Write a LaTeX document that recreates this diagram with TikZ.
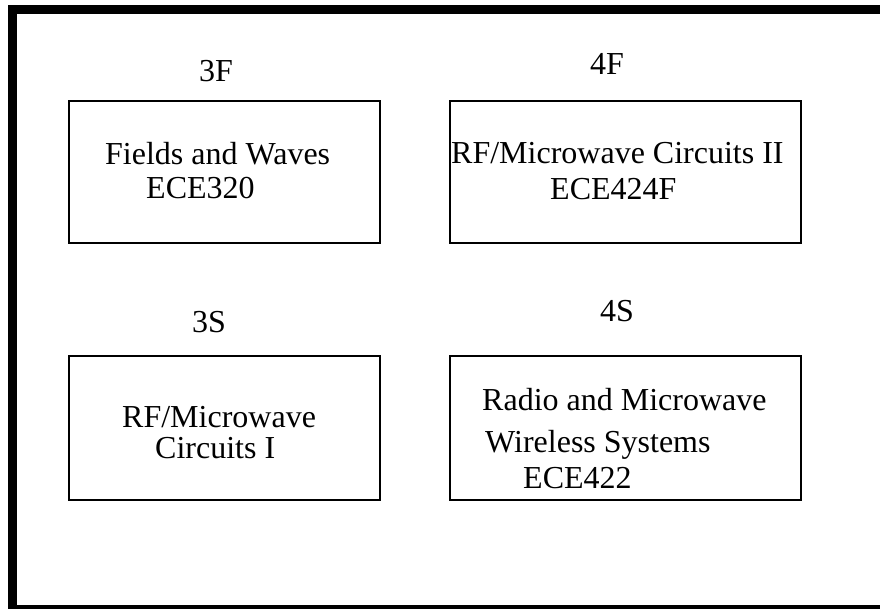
\documentclass[tikz,border=0pt]{standalone}
\usepackage{fontspec}
\setmainfont{Liberation Serif}
\begin{document}
\begin{tikzpicture}[x=1pt,y=-1pt,
  course/.style={draw=black,line width=2pt,rectangle,inner sep=0pt},
  txt/.style={anchor=base west,inner sep=0pt,font=\fontsize{32}{36}\selectfont},
  term/.style={anchor=base,inner sep=0pt,font=\fontsize{32}{36}\selectfont}]
  \useasboundingbox (0,0) rectangle (880,609);
  \clip (0,0) rectangle (880,609);
  % outer frame, partly running off the page
  \draw[line width=9pt] (12.5,9.5) rectangle (884.5,609.5);

  % course boxes
  \node[course,minimum width=310.5pt,minimum height=142pt] (f3) at (224.25,172) {};
  \node[course,minimum width=351pt,minimum height=142pt] (f4) at (625.5,172) {};
  \node[course,minimum width=310.5pt,minimum height=144pt] (s3) at (224.25,428) {};
  \node[course,minimum width=351pt,minimum height=144pt] (s4) at (625.5,428) {};

  % term labels
  \node[term] (l3f) at (216,82) {3F};
  \node[term] (l4f) at (607,75) {4F};
  \node[term] (l3s) at (209,333) {3S};
  \node[term] (l4s) at (617,322) {4S};

  % box texts
  \node[txt] (f3a) at (105,165) {Fields and Waves};
  \node[txt] (f3b) at (146,199) {ECE320};
  \node[txt] (f4a) at (451,164) {RF/Microwave Circuits II};
  \node[txt] (f4b) at (550,200) {ECE424F};
  \node[txt] (s3a) at (122,427) {RF/Microwave};
  \node[txt] (s3b) at (155,458) {Circuits I};
  \node[txt] (s4a) at (482,410) {Radio and Microwave};
  \node[txt] (s4b) at (485,452) {Wireless Systems};
  \node[txt] (s4c) at (523,488) {ECE422};
\end{tikzpicture}
\end{document}
